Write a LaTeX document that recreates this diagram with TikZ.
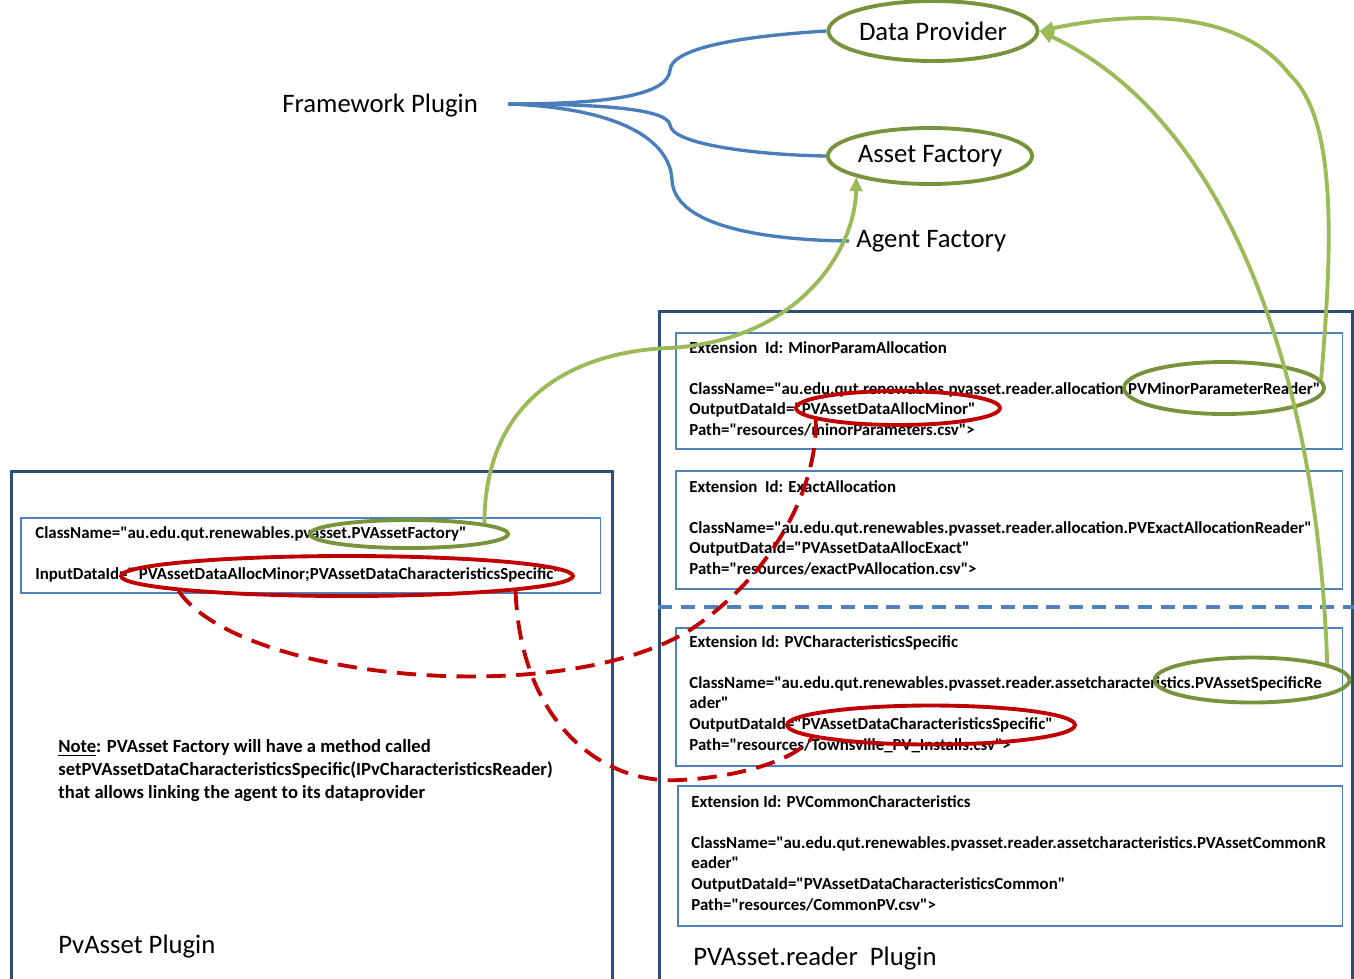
\documentclass[tikz,border=0pt]{standalone}
\usepackage{fontspec}
\setmainfont{Carlito}[Ligatures=TeXOff]
\usetikzlibrary{arrows.meta,positioning,shapes.geometric}

\definecolor{plugblue}{RGB}{44,77,117}
\definecolor{extblue}{RGB}{79,129,189}
\definecolor{linkblue}{RGB}{74,126,187}
\definecolor{ringgreen}{RGB}{119,147,60}
\definecolor{arrgreen}{RGB}{155,187,89}
\definecolor{ringred}{RGB}{192,0,0}

\newcommand\codefont{\fontsize{9.6}{11.7}\selectfont\bfseries}
\newcommand\labelfont{\fontsize{15.2}{18}\selectfont}
\newcommand\notefont{\fontsize{10.6}{13}\selectfont\bfseries}

\begin{document}
\begin{tikzpicture}[x=0.02cm,y=-0.02cm,
        plugin/.style={draw=plugblue, line width=1.7pt, anchor=north west, inner sep=0pt},
        extbox/.style={draw=extblue, line width=0.9pt, anchor=north west, inner sep=0pt},
        code/.style={font=\codefont, align=left, inner sep=0pt, anchor=north west},
        biglabel/.style={font=\labelfont, inner sep=4pt},
        ring/.style={ellipse, draw=ringgreen, line width=2.2pt, inner sep=0pt},
        redring/.style={ellipse, draw=ringred, line width=2.2pt, inner sep=0pt},
        fwlink/.style={draw=linkblue, line width=1.9pt},
        feedarr/.style={draw=arrgreen, line width=2.2pt, -{Triangle[length=8pt,width=7pt]}},
        datalink/.style={draw=ringred, line width=2.2pt, dash pattern=on 11pt off 6pt}
      ]
        \clip (0,0) rectangle (1354,978);
        % plugin frames
        \node[plugin, minimum width=12.02cm, minimum height=12cm] (pvplug) at (10,470) {};
        \node[plugin, minimum width=13.86cm, minimum height=14cm] (rdplug) at (658,310) {};
        \draw[draw=extblue, line width=1.8pt, dash pattern=on 8pt off 5pt] (rdplug.north west |- 0,607) -- (rdplug.north east |- 0,607);

        % extension boxes
        \node[extbox, minimum width=11.6cm, minimum height=1.5cm] (facbox) at (20,517) {};
        \node[extbox, minimum width=13.34cm, minimum height=2.32cm] (ext1) at (675,332) {};
        \node[extbox, minimum width=13.34cm, minimum height=2.36cm] (ext2) at (675,470) {};
        \node[extbox, minimum width=13.34cm, minimum height=2.76cm] (ext3) at (675,627) {};
        \node[extbox, minimum width=13.30cm, minimum height=2.80cm] (ext4) at (677,785) {};

        \node[code, below right=0.18cm and 0.3cm of facbox.north west] (factxt)
          {ClassName="au.edu.qut.renewables.pvasset.PVAssetFactory"\\[11.7pt]
           InputDataId=" PVAssetDataAllocMinor;PVAssetDataCharacteristicsSpecific"};
        \node[code, below right=0.18cm and 0.28cm of ext1.north west] (ext1txt)
          {Extension~~Id: MinorParamAllocation\\[11.7pt]
           ClassName="au.edu.qut.renewables.pvasset.reader.allocation.PVMinorParameterReader"\\
           OutputDataId="PVAssetDataAllocMinor"\\
           Path="resources/minorParameters.csv">};
        \node[code, below right=0.2cm and 0.28cm of ext2.north west] (ext2txt)
          {Extension~~Id: ExactAllocation\\[11.7pt]
           ClassName="au.edu.qut.renewables.pvasset.reader.allocation.PVExactAllocationReader"\\
           OutputDataId="PVAssetDataAllocExact"\\
           Path="resources/exactPvAllocation.csv">};
        \node[code, below right=0.16cm and 0.28cm of ext3.north west] (ext3txt)
          {Extension Id: PVCharacteristicsSpecific\\[11.7pt]
           ClassName="au.edu.qut.renewables.pvasset.reader.assetcharacteristics.PVAssetSpecificRe\\
           ader"\\
           OutputDataId="PVAssetDataCharacteristicsSpecific"\\
           Path="resources/Townsville\_PV\_Installs.csv">};
        \node[code, below right=0.2cm and 0.28cm of ext4.north west] (ext4txt)
          {Extension Id: PVCommonCharacteristics\\[11.7pt]
           ClassName="au.edu.qut.renewables.pvasset.reader.assetcharacteristics.PVAssetCommonR\\
           eader"\\
           OutputDataId="PVAssetDataCharacteristicsCommon"\\
           Path="resources/CommonPV.csv">};

        \node[font=\notefont, align=left, inner sep=0pt, anchor=north west] (note) at (58,739)
          {\underline{Note}: PVAsset Factory will have a method called\\
           setPVAssetDataCharacteristicsSpecific(IPvCharacteristicsReader)\\
           that allows linking the agent to its dataprovider};
        \node[biglabel, anchor=west] (pvname) at (51,947) {PvAsset Plugin};
        \node[biglabel, anchor=west] (rdname) at (686,959) {PVAsset.reader~~Plugin};

        % framework side
        \node[biglabel, anchor=west] (fw) at (275,106) {Framework Plugin};
        \coordinate (fwout) at (508,104);
        \node[ring, biglabel, inner sep=0pt, minimum width=4cm, minimum height=1.2cm] (dp) at (933,31) {Data Provider};
        \node[ring, biglabel, inner sep=0pt, minimum width=3.96cm, minimum height=1.12cm] (af) at (930,156) {Asset Factory};
        \node[biglabel, anchor=west] (agf) at (849,241) {Agent Factory};

        % marked identifiers
        \node[ring, minimum width=3.96cm, minimum height=0.56cm] (facring) at (409,534) {};
        \node[redring, minimum width=9.04cm, minimum height=0.8cm] (inred) at (347,576) {};
        \node[ring, minimum width=4cm, minimum height=1.04cm] (minring) at (1224,388) {};
        \node[redring, minimum width=4.08cm, minimum height=0.68cm] (minred) at (898,408) {};
        \node[ring, minimum width=3.9cm, minimum height=0.9cm] (specring) at (1252,680) {};
        \node[redring, minimum width=5.76cm, minimum height=0.78cm] (specred) at (931,725) {};

        \draw[fwlink] (fwout) .. controls (610,104) and (668,95) .. (670,70) .. controls (672,45) and (760,35) .. (dp.west);
        \draw[fwlink] (fwout) .. controls (610,104) and (668,110) .. (670,125) .. controls (672,145) and (760,155) .. (af.west);
        \draw[fwlink] (fwout) .. controls (620,108) and (670,140) .. (672,180) .. controls (674,225) and (760,240) .. (agf.west);

        \draw[feedarr] (facring.8) .. controls (485,380) and (600,350) .. (670,348) .. controls (800,340) and (855,250) .. (af.196);
        \draw[feedarr] (minring.5) .. controls (1332,250) and (1338,120) .. (1290,75) .. controls (1245,15) and (1150,8) .. (dp.east);
        \draw[feedarr] (specring.12) .. controls (1318,380) and (1230,120) .. (dp.east);

        \draw[datalink] (inred.185) .. controls (240,680) and (560,710) .. (690,630) .. controls (780,570) and (818,480) .. (minred.188);
        \draw[datalink] (inred.-5) .. controls (520,720) and (600,785) .. (680,780) .. controls (740,777) and (795,760) .. (specred.186);
      \end{tikzpicture}
\end{document}
